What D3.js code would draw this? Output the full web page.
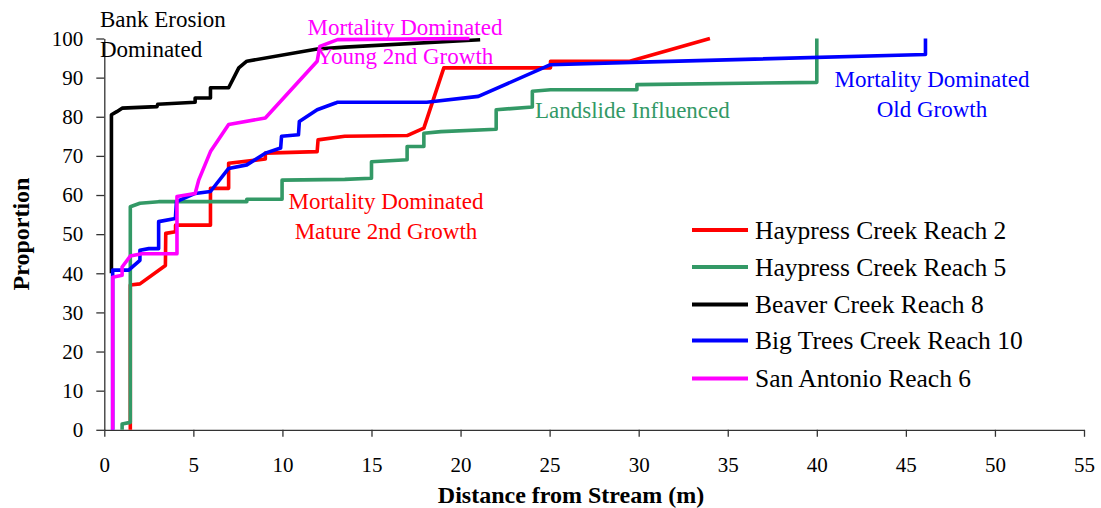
<!DOCTYPE html>
<html>
<head>
<meta charset="utf-8">
<script src="https://cdn.jsdelivr.net/npm/d3@7"></script>
<style>
  html, body { margin: 0; padding: 0; background: #fff; }
  svg { display: block; font-family: "Liberation Serif", "Times New Roman", serif; }
</style>
</head>
<body>
<svg id="chart" width="1101" height="508"></svg>
<script>
// ---- Data ----
const seriesNames = ["Haypress Creek Reach 2", "Haypress Creek Reach 5", "Beaver Creek Reach 8", "Big Trees Creek Reach 10", "San Antonio Reach 6"];
const seriesColors = ["#ff0000", "#339966", "#000000", "#0000ff", "#ff00ff"];

const haypress2X = [1.46, 1.46, 2.0, 3.43, 3.45, 4.0, 4.0, 5.96, 5.96, 6.98, 6.98, 9.04, 9.04, 11.95, 12.0, 13.5, 17.0, 17.94, 19.06, 25.05, 25.05, 29.5, 34.0];
const haypress2Y = [0, 37, 37.3, 42, 50.2, 50.6, 52.3, 52.3, 61.7, 61.7, 68.1, 69.2, 70.7, 71.1, 74.1, 75.0, 75.2, 77.1, 92.5, 92.5, 94.2, 94.2, 100];

const haypress5X = [1.0, 1.0, 1.46, 1.46, 2.0, 3.05, 8.0, 8.0, 9.98, 9.98, 13.5, 15.0, 15.0, 17.0, 17.0, 17.94, 17.94, 18.9, 22.0, 22.0, 24.03, 24.03, 25.05, 29.9, 29.9, 40.0, 40.0];
const haypress5Y = [0, 1.5, 1.9, 57, 57.9, 58.3, 58.3, 58.9, 58.9, 63.8, 64.0, 64.3, 68.5, 69.0, 72.4, 72.4, 75.8, 76.2, 76.8, 81.8, 82.5, 86.5, 86.9, 86.9, 88.2, 88.8, 100];

const beaver8X = [0.4, 0.4, 0.7, 1.0, 2.96, 3.0, 5.1, 5.1, 5.96, 5.96, 6.98, 7.55, 8.0, 11.95, 13.5, 21.1];
const beaver8Y = [40, 80.5, 81.3, 82.2, 82.6, 83.2, 83.7, 84.8, 84.8, 87.4, 87.4, 92.5, 94.2, 97.3, 97.8, 99.7];

const bigTrees10X = [0.47, 0.47, 1.37, 2.0, 2.0, 2.5, 3.05, 3.05, 3.99, 4.05, 5.1, 5.96, 6.98, 8.0, 9.04, 9.9, 9.95, 10.9, 10.95, 11.95, 12.98, 13.07, 18.1, 21.0, 25.05, 29.6, 46.1, 46.1];
const bigTrees10Y = [0, 40.8, 40.8, 43.3, 45.9, 46.3, 46.3, 53.2, 54, 58.3, 60.4, 60.9, 66.8, 67.7, 70.7, 72, 75, 75.4, 78.8, 81.8, 83.5, 83.7, 83.7, 85.2, 93.3, 93.9, 95.9, 100];

const sanAntonio6X = [0.47, 0.47, 1.0, 1.0, 1.46, 2.1, 4.08, 4.08, 5.1, 5.3, 5.96, 6.98, 9.04, 11.95, 12.1, 13.1, 20.5];
const sanAntonio6Y = [0, 39, 39.5, 41.6, 44.4, 45, 45, 59.6, 60.4, 63.8, 71.1, 78, 79.7, 94.2, 98, 99.7, 100];

const xTicks = [0, 5, 10, 15, 20, 25, 30, 35, 40, 45, 50, 55];
const yTicks = [0, 10, 20, 30, 40, 50, 60, 70, 80, 90, 100];

const xTitle = "Distance from Stream (m)";
const yTitle = "Proportion";

const annotations = [
  { lines: ["Bank Erosion", "Dominated"], color: "#000000" },
  { lines: ["Mortality Dominated", "Young 2nd Growth"], color: "#ff00ff" },
  { lines: ["Mortality Dominated", "Old Growth"], color: "#0000ff" },
  { lines: ["Landslide Influenced"], color: "#339966" },
  { lines: ["Mortality Dominated", "Mature 2nd Growth"], color: "#ff0000" }
];

// ---- Layout ----
const svg = d3.select("#chart");
const x = d3.scaleLinear().domain([0, 55]).range([104.3, 1084]);
const y = d3.scaleLinear().domain([0, 100]).range([429.8, 38.5]);

const seriesData = [
  d3.zip(haypress2X, haypress2Y),
  d3.zip(haypress5X, haypress5Y),
  d3.zip(beaver8X, beaver8Y),
  d3.zip(bigTrees10X, bigTrees10Y),
  d3.zip(sanAntonio6X, sanAntonio6Y)
];

// Axes
const xAxis = svg.append("g").attr("transform", `translate(0,${y(0)})`)
  .call(d3.axisBottom(x).tickValues(xTicks).tickSize(7).tickSizeOuter(0).tickPadding(20));
const yAxis = svg.append("g").attr("transform", `translate(${x(0)},0)`)
  .call(d3.axisLeft(y).tickValues(yTicks).tickSize(8).tickSizeOuter(0).tickPadding(13));
[xAxis, yAxis].forEach(g => {
  g.selectAll("path.domain").attr("stroke", "#333").attr("stroke-width", 1.3);
  g.selectAll(".tick line").attr("stroke", "#333").attr("stroke-width", 1.3);
  g.selectAll(".tick text").attr("fill", "#000").attr("font-size", 21)
    .attr("font-family", "'Liberation Serif', 'Times New Roman', serif");
});
xAxis.selectAll(".tick text").attr("dy", "0.71em");

// Lines
const line = d3.line().x(d => x(d[0])).y(d => y(d[1]));
seriesData.forEach((d, i) => {
  svg.append("path").datum(d)
    .attr("fill", "none")
    .attr("stroke", seriesColors[i])
    .attr("stroke-width", 3.6)
    .attr("stroke-linejoin", "round")
    .attr("d", line);
});

// Axis titles
svg.append("text").attr("x", 571).attr("y", 503)
  .attr("text-anchor", "middle").attr("font-weight", "bold").attr("font-size", 24)
  .text(xTitle);
svg.append("text").attr("transform", "translate(29,234) rotate(-90)")
  .attr("text-anchor", "middle").attr("font-weight", "bold").attr("font-size", 24)
  .text(yTitle);

// Annotations
const annPos = [
  { x: 100, y: [27, 57], anchor: "start" },
  { x: 405, y: [35, 64], anchor: "middle" },
  { x: 932, y: [87, 117], anchor: "middle" },
  { x: 535, y: [118], anchor: "start" },
  { x: 386, y: [209, 239], anchor: "middle" }
];
annotations.forEach((a, i) => {
  const p = annPos[i];
  a.lines.forEach((t, j) => {
    svg.append("text").attr("x", p.x).attr("y", p.y[j])
      .attr("text-anchor", p.anchor).attr("font-size", 23)
      .attr("fill", a.color).text(t);
  });
});

// Legend
const legend = svg.append("g");
const legendY = [230, 267, 304.5, 340.5, 378.5];
seriesNames.forEach((n, i) => {
  legend.append("line").attr("x1", 692).attr("x2", 748)
    .attr("y1", legendY[i]).attr("y2", legendY[i])
    .attr("stroke", seriesColors[i]).attr("stroke-width", 4);
  legend.append("text").attr("x", 755).attr("y", legendY[i] + 8.5)
    .attr("font-size", 25.5).attr("fill", "#000").text(n);
});
</script>
</body>
</html>
